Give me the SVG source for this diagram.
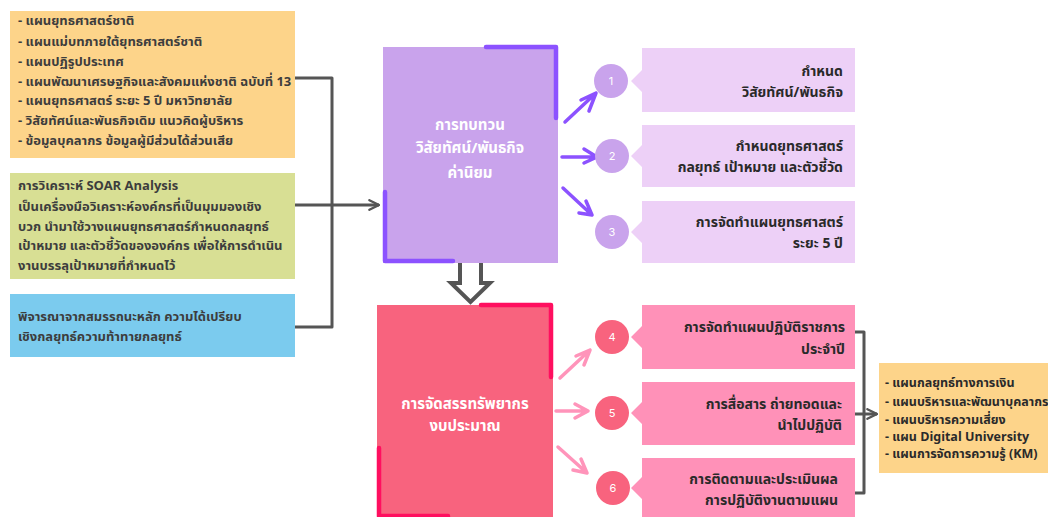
<svg xmlns="http://www.w3.org/2000/svg" width="1048" height="517" viewBox="0 0 1048 517">
<style>
text{font-family:"Noto Sans Thai","Noto Sans Thai Looped","Noto Sans","Liberation Sans",sans-serif;font-weight:bold}
.lt{font-size:13px;fill:#3d3d3d}
.ct{font-size:15px;fill:#ffffff;text-anchor:middle}
.rt{font-size:14px;fill:#2a2a2a;text-anchor:end}
.br{font-size:12.5px;fill:#2a2a2a}
.num{font-family:Inter,"Liberation Sans",sans-serif;font-weight:normal;font-size:11px;fill:#ffffff;text-anchor:middle}
.conn{fill:none;stroke:#555555;stroke-width:3;stroke-linejoin:round}
.pa{fill:none;stroke:#8C52FF;stroke-width:3.5;stroke-linecap:round;stroke-linejoin:round}
.ka{fill:none;stroke:#FF94BA;stroke-width:3.5;stroke-linecap:round;stroke-linejoin:round}
.pacc{fill:none;stroke:#8C52FF;stroke-width:4.5;stroke-linecap:round;stroke-linejoin:round}
.kacc{fill:none;stroke:#FF0F5F;stroke-width:4.5;stroke-linecap:round;stroke-linejoin:round}
</style>
<defs>
<marker id="ah" viewBox="0 0 10 10" refX="9" refY="5" markerWidth="4" markerHeight="4" orient="auto" markerUnits="strokeWidth">
<path d="M1,1 L9,5 L1,9" fill="none" stroke="#555555" stroke-width="2" stroke-linecap="round" stroke-linejoin="round"/>
</marker>
</defs>
<rect width="1048" height="517" fill="#ffffff"/>

<g id="connectors">
<path class="conn" d="M295,78 H332 V327 H295"/>
<path class="conn" d="M292,205 H379" marker-end="url(#ah)"/>
<path class="conn" d="M855,332 H864 V493 H855"/>
<path class="conn" d="M855,414 H877" marker-end="url(#ah)"/>
<path d="M460,263 V283 H451 L470.5,302 L490,283 H481 V263" fill="#ffffff" stroke="#555555" stroke-width="4" stroke-linejoin="miter"/>
<path class="pa" d="M565,122 L596,93 M581,100 L596,93 L589,111"/>
<path class="pa" d="M562,157 L597,157 M584,149 L597,157 L584,163"/>
<path class="pa" d="M563,188 L592,215 M586,201 L592,215 L579,213"/>
<path class="ka" d="M560,378 L590,350 M576,356 L590,350 L584,365"/>
<path class="ka" d="M556,411 L588,411 M575,404 L588,411 L575,418"/>
<path class="ka" d="M558,447 L587,473 M581,459 L587,473 L573,470"/>
</g>

<g id="box-plans">
<rect x="10" y="11" width="285" height="147" fill="#FDD48A"/>
<text class="lt" x="18" y="25">- แผนยุทธศาสตร์ชาติ</text>
<text class="lt" x="18" y="46">- แผนแม่บทภายใต้ยุทธศาสตร์ชาติ</text>
<text class="lt" x="18" y="66">- แผนปฏิรูปประเทศ</text>
<text class="lt" x="18" y="86">- แผนพัฒนาเศรษฐกิจและสังคมแห่งชาติ ฉบับที่ 13</text>
<text class="lt" x="18" y="105">- แผนยุทธศาสตร์ ระยะ 5 ปี มหาวิทยาลัย</text>
<text class="lt" x="18" y="125">- วิสัยทัศน์และพันธกิจเดิม แนวคิดผู้บริหาร</text>
<text class="lt" x="18" y="145">- ข้อมูลบุคลากร ข้อมูลผู้มีส่วนได้ส่วนเสีย</text>
</g>

<g id="box-soar">
<rect x="10" y="173" width="285" height="106" fill="#D8DF94"/>
<text class="lt" x="18" y="190">การวิเคราะห์ SOAR Analysis</text>
<text class="lt" x="18" y="211">เป็นเครื่องมือวิเคราะห์องค์กรที่เป็นมุมมองเชิง</text>
<text class="lt" x="18" y="231">บวก นำมาใช้วางแผนยุทธศาสตร์กำหนดกลยุทธ์</text>
<text class="lt" x="18" y="250">เป้าหมาย และตัวชี้วัดขององค์กร เพื่อให้การดำเนิน</text>
<text class="lt" x="18" y="270">งานบรรลุเป้าหมายที่กำหนดไว้</text>
</g>

<g id="box-competency">
<rect x="10" y="294" width="285" height="63" fill="#7BCBEE"/>
<text class="lt" x="18" y="321">พิจารณาจากสมรรถนะหลัก ความได้เปรียบ</text>
<text class="lt" x="18" y="341">เชิงกลยุทธ์ความท้าทายกลยุทธ์</text>
</g>

<g id="box-review">
<rect x="383" y="47" width="175" height="216" fill="#C9A3EC"/>
<path class="pacc" d="M486,47 H556 V118"/>
<path class="pacc" d="M385,192 V261 H453"/>
<text class="ct" x="470" y="130">การทบทวน</text>
<text class="ct" x="470" y="153">วิสัยทัศน์/พันธกิจ</text>
<text class="ct" x="470" y="178">ค่านิยม</text>
</g>

<g id="box-budget">
<rect x="377" y="305" width="176" height="212" fill="#F8637E"/>
<path class="kacc" d="M481,305 H551 V377"/>
<path class="kacc" d="M379,448 V516 H448"/>
<text class="ct" x="465" y="409">การจัดสรรทรัพยากร</text>
<text class="ct" x="465" y="431">งบประมาณ</text>
</g>

<g id="step-1">
<path d="M642,48 H855 V112 H642 V92 L631,81 L642,70 Z" fill="#EDD0F7"/>
<circle cx="611" cy="81" r="17" fill="#C9A3EC"/>
<text class="num" x="611" y="85">1</text>
<text class="rt" x="843" y="76">กำหนด</text>
<text class="rt" x="843" y="97">วิสัยทัศน์/พันธกิจ</text>
</g>
<g id="step-2">
<path d="M642,125 H855 V187 H642 V167 L631,156 L642,145 Z" fill="#EDD0F7"/>
<circle cx="612" cy="156" r="17" fill="#C9A3EC"/>
<text class="num" x="612" y="160">2</text>
<text class="rt" x="843" y="151">กำหนดยุทธศาสตร์</text>
<text class="rt" x="843" y="172">กลยุทธ์ เป้าหมาย และตัวชี้วัด</text>
</g>
<g id="step-3">
<path d="M642,201 H855 V263 H642 V243 L631,232 L642,221 Z" fill="#EDD0F7"/>
<circle cx="612" cy="232" r="17" fill="#C9A3EC"/>
<text class="num" x="612" y="236">3</text>
<text class="rt" x="843" y="227">การจัดทำแผนยุทธศาสตร์</text>
<text class="rt" x="843" y="248">ระยะ 5 ปี</text>
</g>
<g id="step-4">
<path d="M642,305 H855 V369 H642 V348 L631,337 L642,326 Z" fill="#FF91B8"/>
<circle cx="612" cy="337" r="17" fill="#F8637E"/>
<text class="num" x="612" y="341">4</text>
<text class="rt" x="845" y="332">การจัดทำแผนปฏิบัติราชการ</text>
<text class="rt" x="845" y="354">ประจำปี</text>
</g>
<g id="step-5">
<path d="M642,382 H855 V445 H642 V424 L631,413 L642,402 Z" fill="#FF91B8"/>
<circle cx="612" cy="413" r="17" fill="#F8637E"/>
<text class="num" x="612" y="417">5</text>
<text class="rt" x="842" y="409">การสื่อสาร ถ่ายทอดและ</text>
<text class="rt" x="842" y="430">นำไปปฏิบัติ</text>
</g>
<g id="step-6">
<path d="M642,458 H855 V517 H642 V499 L631,488 L642,477 Z" fill="#FF91B8"/>
<circle cx="613" cy="488" r="17" fill="#F8637E"/>
<text class="num" x="613" y="492">6</text>
<text class="rt" x="838" y="484">การติดตามและประเมินผล</text>
<text class="rt" x="838" y="505">การปฏิบัติงานตามแผน</text>
</g>

<g id="box-subplans">
<rect x="879" y="363" width="169" height="110" fill="#FDD48A"/>
<text class="br" x="885" y="387">- แผนกลยุทธ์ทางการเงิน</text>
<text class="br" x="885" y="406">- แผนบริหารและพัฒนาบุคลากร</text>
<text class="br" x="885" y="424">- แผนบริหารความเสี่ยง</text>
<text class="br" x="885" y="441">- แผน Digital University</text>
<text class="br" x="885" y="458">- แผนการจัดการความรู้ (KM)</text>
</g>
</svg>
